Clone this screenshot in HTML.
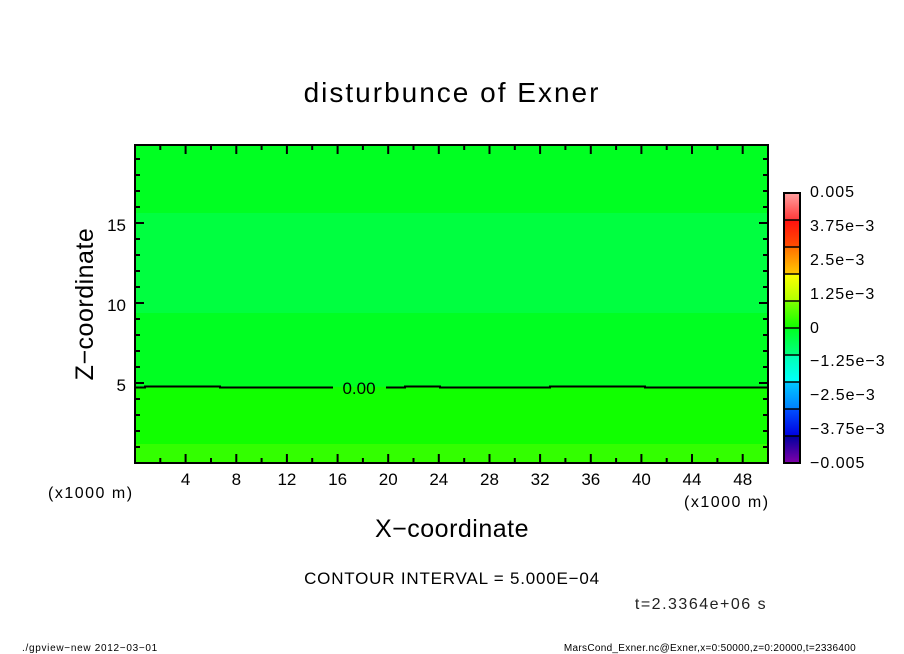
<!DOCTYPE html>
<html><head><meta charset="utf-8"><style>
html,body{margin:0;padding:0;background:#fff;}
svg{display:block;font-family:"Liberation Sans",sans-serif;}
</style></head><body>
<svg width="904" height="654" viewBox="0 0 904 654" xmlns="http://www.w3.org/2000/svg">
<rect width="904" height="654" fill="#fff"/>
<text x="452" y="102" font-size="28" text-anchor="middle" letter-spacing="2">disturbunce of Exner</text>
<rect x="135" y="145" width="633" height="68" fill="#00ff22"/>
<rect x="135" y="213" width="633" height="100" fill="#00ff40"/>
<rect x="135" y="313" width="633" height="74" fill="#00ff22"/>
<rect x="135" y="387" width="633" height="57" fill="#11ff00"/>
<rect x="135" y="444" width="633" height="19" fill="#33ff00"/>
<path d="M135,387.5 H145 V386.5 H220 V387.5 H333 M386,387.5 H405 V386.5 H440 V387.5 H550 V386.5 H645 V387.5 H768" fill="none" stroke="#000" stroke-width="2"/>
<text x="359" y="394" font-size="17" text-anchor="middle">0.00</text>
<rect x="135" y="145" width="633" height="318" fill="none" stroke="#000" stroke-width="2"/>
<g stroke="#000" stroke-width="2">
<path d="M160.3,463v-5M185.6,463v-9M211,463v-5M236.3,463v-9M261.6,463v-5M286.9,463v-9M312.2,463v-5M337.6,463v-9M362.9,463v-5M388.2,463v-9M413.5,463v-5M438.8,463v-9M464.2,463v-5M489.5,463v-9M514.8,463v-5M540.1,463v-9M565.4,463v-5M590.8,463v-9M616.1,463v-5M641.4,463v-9M666.7,463v-5M692,463v-9M717.4,463v-5M742.7,463v-9"/>
<path d="M160.3,145v5M185.6,145v9M211,145v5M236.3,145v9M261.6,145v5M286.9,145v9M312.2,145v5M337.6,145v9M362.9,145v5M388.2,145v9M413.5,145v5M438.8,145v9M464.2,145v5M489.5,145v9M514.8,145v5M540.1,145v9M565.4,145v5M590.8,145v9M616.1,145v5M641.4,145v9M666.7,145v5M692,145v9M717.4,145v5M742.7,145v9"/>
<path d="M135,447h5M135,431h5M135,415h5M135,399h5M135,383h9M135,367h5M135,351h5M135,335h5M135,319h5M135,303h9M135,287h5M135,271h5M135,255h5M135,239h5M135,223h9M135,207h5M135,191h5M135,175h5M135,159h5"/>
<path d="M768,447h-5M768,431h-5M768,415h-5M768,399h-5M768,383h-9M768,367h-5M768,351h-5M768,335h-5M768,319h-5M768,303h-9M768,287h-5M768,271h-5M768,255h-5M768,239h-5M768,223h-9M768,207h-5M768,191h-5M768,175h-5M768,159h-5"/>
</g>
<g font-size="17" text-anchor="middle">
<text x="185.6" y="485">4</text><text x="236.3" y="485">8</text><text x="286.9" y="485">12</text><text x="337.6" y="485">16</text><text x="388.2" y="485">20</text><text x="438.8" y="485">24</text><text x="489.5" y="485">28</text><text x="540.1" y="485">32</text><text x="590.8" y="485">36</text><text x="641.4" y="485">40</text><text x="692" y="485">44</text><text x="742.7" y="485">48</text>
</g>
<g font-size="17" text-anchor="end">
<text x="126" y="391">5</text><text x="126" y="311">10</text><text x="126" y="231">15</text>
</g>
<text x="48" y="498" font-size="16" letter-spacing="1.5">(x1000 m)</text>
<text x="684" y="507" font-size="16" letter-spacing="1.5">(x1000 m)</text>
<text x="452" y="537" font-size="25" text-anchor="middle" letter-spacing="0.5">X−coordinate</text>
<text x="93" y="304" font-size="25" text-anchor="middle" letter-spacing="0.5" transform="rotate(-90 93 304)">Z−coordinate</text>
<text x="452" y="584" font-size="17" text-anchor="middle" letter-spacing="0.8">CONTOUR INTERVAL = 5.000E−04</text>
<text x="701" y="609" font-size="16" text-anchor="middle" letter-spacing="1.5" fill="#222">t=2.3364e+06 s</text>
<text x="22" y="651" font-size="10" letter-spacing="0.7">./gpview−new  2012−03−01</text>
<text x="856" y="651" font-size="10" text-anchor="end" letter-spacing="0.3">MarsCond_Exner.nc@Exner,x=0:50000,z=0:20000,t=2336400</text>
<defs>
<linearGradient id="g1" x1="0" y1="0" x2="0" y2="1"><stop offset="0" stop-color="#ffa0a0"/><stop offset="1" stop-color="#ff3838"/></linearGradient>
<linearGradient id="g2" x1="0" y1="0" x2="0" y2="1"><stop offset="0" stop-color="#ff1010"/><stop offset="1" stop-color="#ff5000"/></linearGradient>
<linearGradient id="g3" x1="0" y1="0" x2="0" y2="1"><stop offset="0" stop-color="#ff7000"/><stop offset="1" stop-color="#ffc800"/></linearGradient>
<linearGradient id="g4" x1="0" y1="0" x2="0" y2="1"><stop offset="0" stop-color="#ffff00"/><stop offset="1" stop-color="#b0ff00"/></linearGradient>
<linearGradient id="g5" x1="0" y1="0" x2="0" y2="1"><stop offset="0" stop-color="#80ff00"/><stop offset="1" stop-color="#10ff00"/></linearGradient>
<linearGradient id="g6" x1="0" y1="0" x2="0" y2="1"><stop offset="0" stop-color="#00ff20"/><stop offset="1" stop-color="#00ff80"/></linearGradient>
<linearGradient id="g7" x1="0" y1="0" x2="0" y2="1"><stop offset="0" stop-color="#00ffb0"/><stop offset="1" stop-color="#00ffff"/></linearGradient>
<linearGradient id="g8" x1="0" y1="0" x2="0" y2="1"><stop offset="0" stop-color="#00c8ff"/><stop offset="1" stop-color="#0080ff"/></linearGradient>
<linearGradient id="g9" x1="0" y1="0" x2="0" y2="1"><stop offset="0" stop-color="#0050ff"/><stop offset="1" stop-color="#0000e0"/></linearGradient>
<linearGradient id="g10" x1="0" y1="0" x2="0" y2="1"><stop offset="0" stop-color="#0000a0"/><stop offset="1" stop-color="#8000a8"/></linearGradient>
</defs>
<rect x="784" y="193" width="16" height="27" fill="url(#g1)"/>
<rect x="784" y="220" width="16" height="27" fill="url(#g2)"/>
<rect x="784" y="247" width="16" height="27" fill="url(#g3)"/>
<rect x="784" y="274" width="16" height="27" fill="url(#g4)"/>
<rect x="784" y="301" width="16" height="27" fill="url(#g5)"/>
<rect x="784" y="328" width="16" height="27" fill="url(#g6)"/>
<rect x="784" y="355" width="16" height="27" fill="url(#g7)"/>
<rect x="784" y="382" width="16" height="27" fill="url(#g8)"/>
<rect x="784" y="409" width="16" height="27" fill="url(#g9)"/>
<rect x="784" y="436" width="16" height="27" fill="url(#g10)"/>
<path d="M784,220h16M784,247h16M784,274h16M784,301h16M784,328h16M784,355h16M784,382h16M784,409h16M784,436h16" stroke="#000" stroke-width="1.5"/>
<rect x="784" y="193" width="16" height="270" fill="none" stroke="#000" stroke-width="2"/>
<g font-size="16" letter-spacing="1">
<text x="810" y="197">0.005</text>
<text x="810" y="231">3.75e−3</text>
<text x="810" y="265">2.5e−3</text>
<text x="810" y="299">1.25e−3</text>
<text x="810" y="333">0</text>
<text x="810" y="366">−1.25e−3</text>
<text x="810" y="400">−2.5e−3</text>
<text x="810" y="434">−3.75e−3</text>
<text x="810" y="468">−0.005</text>
</g>
</svg>
</body></html>
